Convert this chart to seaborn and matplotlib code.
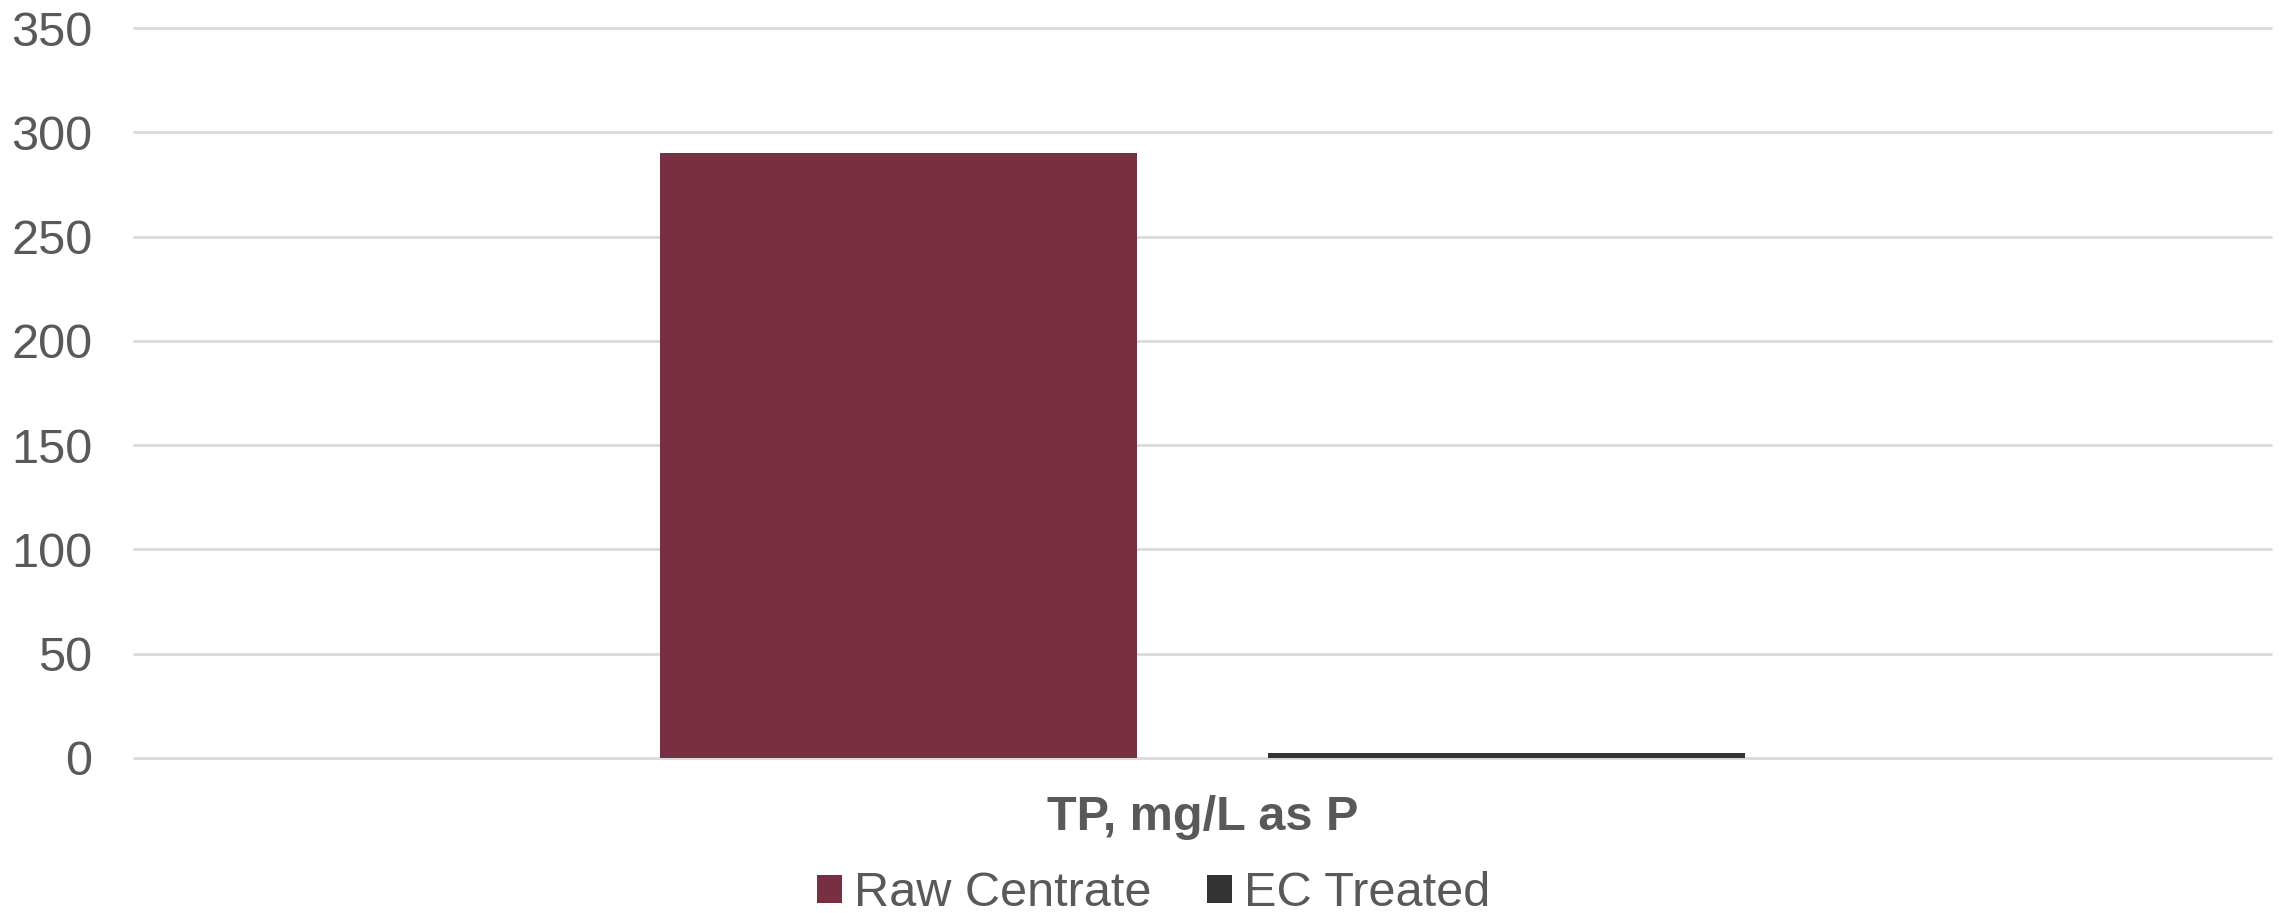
import matplotlib
matplotlib.use("Agg")
import matplotlib.pyplot as plt
import seaborn as sns
import pandas as pd

# Total phosphorus before and after electrocoagulation
categories = ["TP, mg/L as P"]
series = ["Raw Centrate", "EC Treated"]
raw_centrate = [290]
ec_treated = [2.5]
y_ticks = [0, 50, 100, 150, 200, 250, 300, 350]

colors = {"Raw Centrate": "#772F41", "EC Treated": "#333333"}
text_color = "#595959"

df = pd.DataFrame({
    "category": categories * 2,
    "series": [series[0]] * len(categories) + [series[1]] * len(categories),
    "value": raw_centrate + ec_treated,
})

sns.set_theme(style="white")
plt.rcParams["font.family"] = ["Liberation Sans", "DejaVu Sans"]

fig = plt.figure(figsize=(22.8, 9.13), dpi=100)
ax = fig.add_axes([0.0588, 0.1698, 0.996 - 0.0588, 0.9693 - 0.1698])

sns.barplot(data=df, x="category", y="value", hue="series", hue_order=series,
            palette=colors, saturation=1, width=0.569, gap=0.214,
            edgecolor="none", linewidth=0, ax=ax, legend=True)

ax.set_xlim(-0.5, 0.5)
ax.set_ylim(0, 350)
ax.set_yticks(y_ticks)
ax.set_yticklabels([str(t) for t in y_ticks])
ax.yaxis.grid(True, color="#d9d9d9", linewidth=2)
for gl in ax.get_ygridlines():
    gl.set_clip_on(False)
ax.set_axisbelow(True)
for s in ax.spines.values():
    s.set_visible(False)
ax.set_xlabel("")
ax.set_ylabel("")
ax.tick_params(axis="y", length=0, pad=30, labelsize=35, labelcolor=text_color)
ax.tick_params(axis="x", length=0, pad=27, labelsize=35, labelcolor=text_color)
for lab in ax.get_xticklabels():
    lab.set_fontweight("bold")

handles, labels = ax.get_legend_handles_labels()
ax.get_legend().remove()
leg = fig.legend(handles, labels, loc="center", bbox_to_anchor=(0.506, 0.021),
                 ncol=2, frameon=False, fontsize=35, handlelength=0.5,
                 handleheight=0.5, handletextpad=0.25, columnspacing=1.15,
                 borderpad=0)
for t in leg.get_texts():
    t.set_color(text_color)

fig.savefig("out.png", dpi=100, facecolor="white")
